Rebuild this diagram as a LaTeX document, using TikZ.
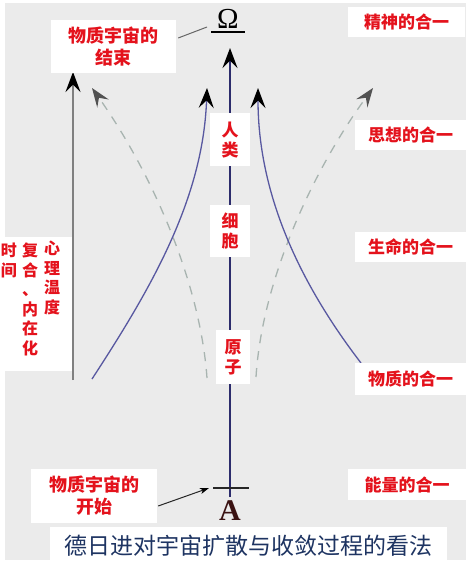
\documentclass[tikz,border=0pt]{standalone}
\usepackage{fontspec}
\newfontfamily\cjk{Noto Sans CJK SC}
\newfontfamily\tnr{Liberation Serif}
\usetikzlibrary{arrows.meta,calc}
\definecolor{bg}{HTML}{EBEBEB}
\definecolor{labred}{RGB}{228,18,28}
\definecolor{titleblue}{RGB}{30,52,98}
\definecolor{mainblue}{RGB}{44,44,108}
\definecolor{curveblue}{RGB}{88,88,160}
\definecolor{dashgray}{RGB}{168,180,176}
\definecolor{arrgray}{RGB}{128,128,128}
\definecolor{abrown}{RGB}{58,18,18}
\begin{document}
\begin{tikzpicture}[x=1pt,y=-1pt,
  box/.style={fill=white, inner sep=0pt, text=labred, align=center},
  rlabel/.style={box, font=\cjk\bfseries\fontsize{17}{20}\selectfont},
  clabel/.style={box, font=\cjk\bfseries\fontsize{17}{20}\selectfont},
  blabel/.style={box, font=\cjk\bfseries\fontsize{18}{22}\selectfont},
  colfont/.style={text=labred, inner sep=0pt, align=center, anchor=north,
     font=\cjk\bfseries\fontsize{16}{19.5}\selectfont},
  blackhead/.style={-{Stealth[length=20pt,width=15pt,inset=7.5pt,color=black]}},
  grayhead/.style={-{Stealth[length=19pt,width=14pt,inset=7pt,color=black!68]}},
  smallhead/.style={-{Stealth[length=9pt,width=6pt,inset=2.5pt,color=black]}},
  mainline/.style={draw=mainblue, line width=1.6pt},
  curveline/.style={draw=curveblue, line width=1.3pt},
  dashline/.style={draw=dashgray, line width=1.3pt, dash pattern=on 9pt off 8pt},
]
\useasboundingbox (0,0) rectangle (466,564);
\fill[white] (0,0) rectangle (466,564);
\fill[bg] (5,3) rectangle (466,560);

% coordinates
\coordinate (mainbot) at (230,497);
\coordinate (maintop) at (230,48);
\coordinate (tickL) at (213,488);
\coordinate (tickR) at (249,488);
\coordinate (lbS) at (92,379);
\coordinate (lbE) at (207,88);
\coordinate (rbS) at (361,363);
\coordinate (rbE) at (258,88);
\coordinate (ldS) at (207,378);
\coordinate (ldE) at (92,88);
\coordinate (rdS) at (256,377);
\coordinate (rdE) at (373,88);
\coordinate (gaS) at (73,380);
\coordinate (gaE) at (73,72);

% dashed gray curves
\draw[dashline, grayhead] (ldS) .. controls (200,280) and (150,170) .. (ldE);
\draw[dashline, grayhead] (rdS) .. controls (262,280) and (313,170) .. (rdE);

% blue curves
\draw[curveline, blackhead] (lbS) .. controls (150,290) and (203,200) .. (lbE);
\draw[curveline, blackhead] (rbS) .. controls (305,290) and (258,200) .. (rbE);

% gray vertical arrow
\draw[draw=arrgray, line width=1.6pt, blackhead] (gaS) -- (gaE);

% main line
\draw[mainline, blackhead] (mainbot) -- (maintop);
\draw[line width=1.2pt, black!85] (tickL) -- (tickR);

% Omega and A
\node[inner sep=0pt, font=\tnr\fontsize{29}{32}\selectfont] (omega) at (228,19) {Ω};
\draw[line width=1.3pt] ($(omega.center)+(-17,13)$) coordinate (ulL) -- ($(omega.center)+(17,13)$) coordinate (ulR);
\node[inner sep=0pt, text=abrown, font=\tnr\bfseries\fontsize{30}{32}\selectfont] (alpha) at (230,511) {A};

% middle labels
\node[clabel, minimum width=40pt, minimum height=53pt] (renlei) at (230,140) {人\\类};
\node[clabel, minimum width=40pt, minimum height=52pt] (xibao) at (230,231) {细\\胞};
\node[clabel, minimum width=34pt, minimum height=54pt] (yuanzi) at (233,357) {原\\子};

% right labels
\node[rlabel, minimum width=117pt, minimum height=30pt] (jingshen) at (406.5,22) {精神的合一};
\node[rlabel, minimum width=111pt, minimum height=30pt] (sixiang) at (410.5,135) {思想的合一};
\node[rlabel, minimum width=111pt, minimum height=30pt] (shengming) at (410.5,247) {生命的合一};
\node[rlabel, minimum width=111pt, minimum height=32pt] (wuzhi) at (410.5,379) {物质的合一};
\node[rlabel, minimum width=118pt, minimum height=31pt] (nengliang) at (407,484.5) {能量的合一};

% left boxes
\node[blabel, minimum width=125pt, minimum height=53pt] (jieshu) at (113.5,46.5) {物质宇宙的\\结束};
\node[blabel, minimum width=126pt, minimum height=54pt] (kaishi) at (94,496) {物质宇宙的\\开始};

% time column box
\node[fill=white, inner sep=0pt, minimum width=72pt, minimum height=134pt] (timebox) at (36,304) {};
\node[colfont] (col1) at (9,243) {时\\间};
\node[colfont] (col2) at (30,243) {复\\合\\、\\内\\在\\化};
\node[colfont] (col3) at (52,241) {心\\理\\温\\度};

% connectors to Omega and the tick
\draw[draw=black!60, line width=1pt] ($(jieshu.east)+(2,-8.5)$) -- ($(omega.west)+(-10,8)$);
\draw[draw=black!85, line width=1pt, smallhead] ($(kaishi.east)+(1,10)$) -- ($(tickL)+(-4,0)$);

% title
\node[fill=white, inner sep=0pt, minimum width=397pt, minimum height=37pt, text=titleblue,
  font=\cjk\fontsize{23}{26}\selectfont] (title) at (248.5,545.5) {德日进对宇宙扩散与收敛过程的看法};
\end{tikzpicture}
\end{document}
